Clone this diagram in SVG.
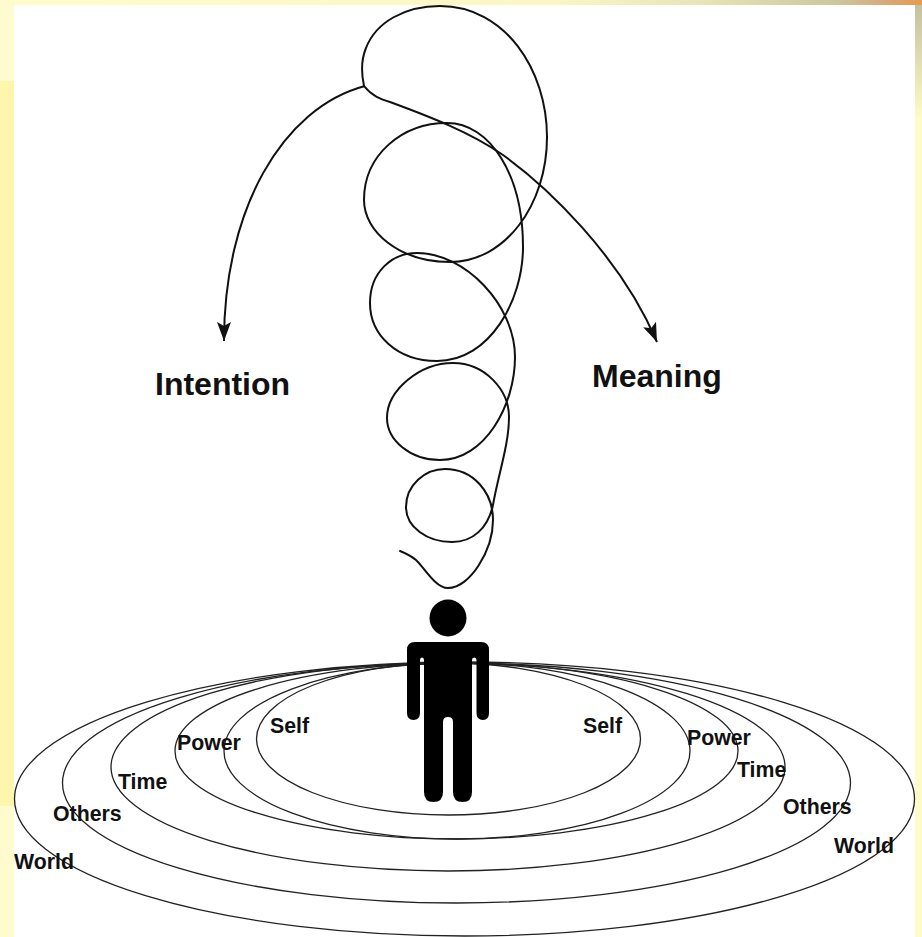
<svg xmlns="http://www.w3.org/2000/svg" width="922" height="937" viewBox="0 0 922 937">
<style>
.l{fill:none;stroke:#222;stroke-width:1.3}
.s{fill:none;stroke:#111;stroke-width:2;stroke-linecap:round}
.c{fill:none;stroke:#111;stroke-width:2}
text{font-family:"Liberation Sans",Arial,sans-serif;font-weight:bold;fill:#111}
.m{font-size:21.300px}.b{font-size:32px}
</style>
<defs>
<linearGradient id="t" x1="0" x2="1" y1="0" y2="0"><stop offset="0" stop-color="#fffbcc"/><stop offset="0.6" stop-color="#fbf7c4"/><stop offset="0.76" stop-color="#e8e4b8"/><stop offset="0.91" stop-color="#ccc69c"/><stop offset="0.96" stop-color="#d8a878"/><stop offset="1" stop-color="#e89a50"/></linearGradient>
<linearGradient id="r" x1="0" x2="0" y1="0" y2="1"><stop offset="0" stop-color="#bfbf9f"/><stop offset="1" stop-color="#fffcc8"/></linearGradient>
<marker id="a" markerWidth="20" markerHeight="16" refX="19" refY="7.500" orient="auto" markerUnits="userSpaceOnUse"><path d="M0 .5L19 7.500L0 14.500L4 7.500Z" fill="#111"/></marker>
</defs>
<g id="bg">
<rect width="922" height="937" fill="#fffcc8"/>
<rect width="14" height="81" fill="#fffbd0"/>
<rect y="81" width="14" height="725" fill="#fff6ad"/>
<rect y="806" width="14" height="131" fill="#fffbcf"/>
<rect x="915" y="0" width="7" height="120" fill="url(#r)"/>
<rect width="922" height="5" fill="url(#t)"/>
<rect x="14" y="5" width="901" height="932" fill="#fff"/>
</g>
<g id="connectors">
<path class="c" d="M365 86C282 108 224 210 224 341" marker-end="url(#a)"/>
<path class="c" d="M364 86C372 96 380 99 390 102C428 116 470 132 503 155C545 185 620 255 657 342" marker-end="url(#a)"/>
<path id="spiral" class="s" d="M364 86C361 72 361 60 366 48C376 22 405 6 440 6C505 6 547 70 547 137C547 205 505 262 450 262C400 262 364 232 364 200C364 155 402 123 447 123C490 123 523 175 523 247C523 300 490 361 437 361C397 361 370 335 370 303C370 272 392 253 417 253C465 253 515 305 515 357C515 405 485 460 440 460C410 460 387 440 387 418C387 390 420 363 453 363C485 363 509 390 509 417C509 445 498 475 493 505C488 528 473 542 452 542C427 542 406 527 406 507C406 485 425 469 445 469C473 469 493 492 493 520C493 550 470 588 448 588C435 588 423 566 416 560C410 555 405 553 400 551"/>
</g>
<g id="ring-world"><ellipse class="l" cx="464.500" cy="799" rx="450" ry="137"/></g>
<g id="ring-others"><ellipse class="l" cx="456.500" cy="783" rx="394" ry="120"/></g>
<g id="ring-time"><ellipse class="l" cx="448" cy="767" rx="337" ry="104"/></g>
<g id="ring-power-outer"><ellipse class="l" cx="456.500" cy="751" rx="281.500" ry="88"/></g>
<g id="ring-power-inner"><ellipse class="l" cx="457" cy="751" rx="233" ry="88"/></g>
<g id="ring-self"><ellipse class="l" cx="448.500" cy="739" rx="192" ry="76"/></g>
<g id="person">
<circle cx="448" cy="618" r="18.500"/>
<path d="M415 642H481Q489 642 489 650V713Q489 720 483 720Q476.500 720 476.500 713V660Q476.500 657.500 474.200 657.500Q472 657.500 472 660V792Q472 802 462.500 802Q453 802 453 792V722Q453 717 448 717Q443 717 443 722V792Q443 802 433.500 802Q424 802 424 792V660Q424 657.500 422 657.500Q420 657.500 420 660V713Q420 720 413.500 720Q407 720 407 713V650Q407 642 415 642Z"/>
</g>
<g id="labels">
<text class="b" x="155" y="395">Intention</text>
<text class="b" x="592" y="387">Meaning</text>
<text class="m" x="270" y="733">Self</text>
<text class="m" x="583" y="733">Self</text>
<text class="m" x="177" y="750">Power</text>
<text class="m" x="687" y="745">Power</text>
<text class="m" x="118" y="789">Time</text>
<text class="m" x="737" y="777">Time</text>
<text class="m" x="53" y="821">Others</text>
<text class="m" x="783" y="814">Others</text>
<text class="m" x="14" y="869">World</text>
<text class="m" x="834" y="853">World</text>
</g>
</svg>
